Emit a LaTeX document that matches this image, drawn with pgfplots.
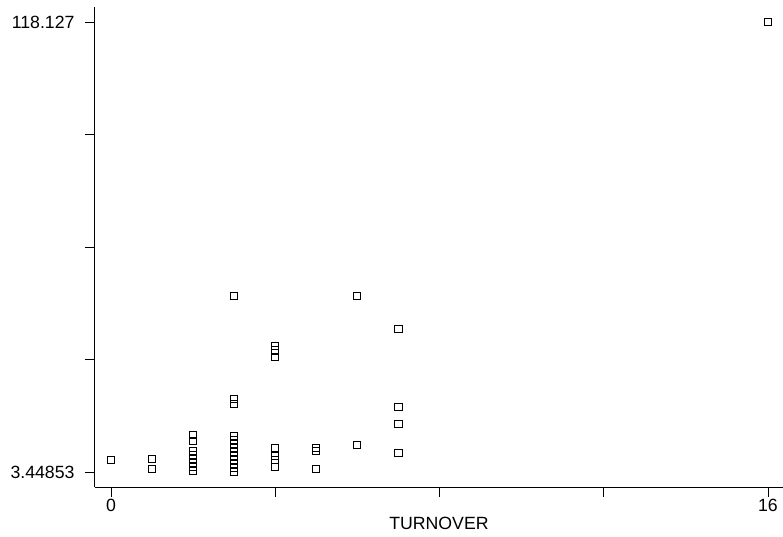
\documentclass[border=0pt]{standalone}
\usepackage{fontspec}
\setmainfont{Liberation Sans}
\usepackage{pgfplots}
\pgfplotsset{compat=1.18}
\begin{document}
\fontsize{11.8}{14}\selectfont
\begin{tikzpicture}
\path[use as bounding box] (-63.3pt,-33.3pt) rectangle (458.7pt,324.7pt);
\begin{axis}[
  at={(0,0)}, anchor=south west,
  scale only axis, width=458.7pt, height=320pt,
  axis x line*=bottom, axis y line*=left,
  xmin=-0.39, xmax=16.366, ymin=-0.383, ymax=121.96,
  xtick={0,4,8,12,16}, xticklabels={0,,,,16},
  ytick={3.44853,32.1182,60.7878,89.4573,118.127},
  yticklabels={3.44853,,,,118.127},
  tick align=outside, major tick length=6.5pt,
  tick style={black, line width=0.5pt},
  axis line style={black, line width=0.6pt},
  /pgf/number format/assume math mode=true,
  ticklabel style={font=\fontsize{11.8}{14}\selectfont},
  xticklabel style={yshift=2.5pt},
  yticklabel style={xshift=-3pt},
  xlabel={TURNOVER},
  xlabel style={font=\fontsize{11.8}{14}\selectfont, at={(axis description cs:0.5,0)}, anchor=center, yshift=-24pt},
  clip=false,
]
\addplot[only marks, mark=square, mark size=2.4pt, mark options={line width=0.65pt, black}] coordinates {
(0,6.5)
(1,6.8) (1,4.2)
(2,12.9) (2,11.4) (2,8.8) (2,7.8) (2,6.8) (2,5.7) (2,4.7) (2,3.7)
(3,48.4) (3,22.1) (3,20.8) (3,12.6) (3,11.6) (3,10.6) (3,9.6) (3,8.6) (3,7.5) (3,6.5) (3,5.5) (3,4.5) (3,3.45)
(4,35.6) (4,34.4) (4,32.8) (4,9.6) (4,7.5) (4,6.5) (4,4.7)
(5,9.6) (5,8.8) (5,4.2)
(6,48.4) (6,10.3)
(7,40.0) (7,20.1) (7,15.7) (7,8.3)
(16,118.127)
};
\end{axis}
\end{tikzpicture}
\end{document}
